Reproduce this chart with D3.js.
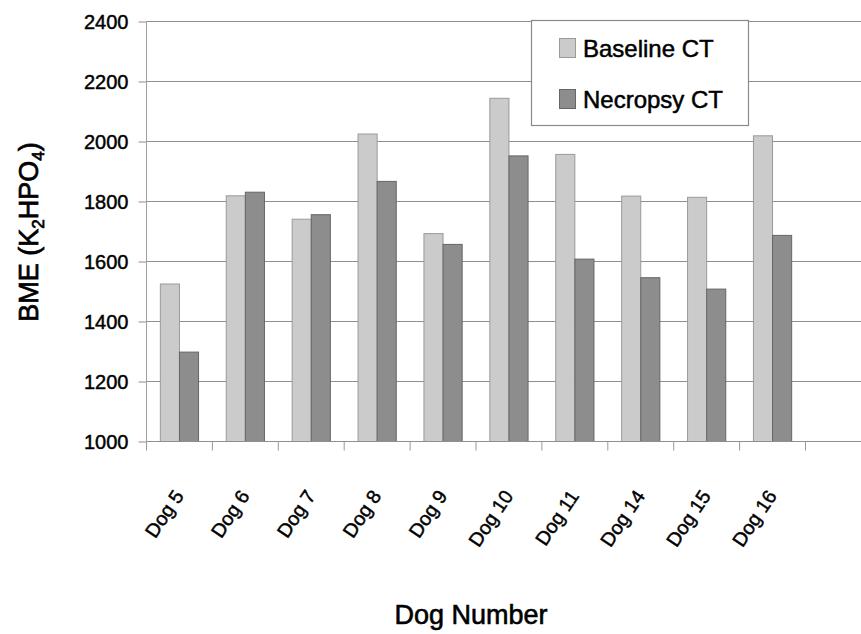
<!DOCTYPE html>
<html><head><meta charset="utf-8">
<script src="https://cdn.jsdelivr.net/npm/d3@7"></script>
<style>body{margin:0;background:#fff}svg{display:block}text{font-family:"Liberation Sans",Arial,sans-serif;fill:#000;stroke:#000;stroke-width:0.45px}</style>
</head><body><svg id="c" width="861" height="634"></svg>
<script>
const dogs = ["Dog 5","Dog 6","Dog 7","Dog 8","Dog 9","Dog 10","Dog 11","Dog 14","Dog 15","Dog 16"];
const baseline = [1525,1819,1741,2025,1693,2144,1957,1818,1814,2019];
const necropsy = [1298,1831,1756,1867,1657,1952,1608,1546,1508,1687];
const seriesNames = ["Baseline CT","Necropsy CT"];
const yTicks = [1000,1200,1400,1600,1800,2000,2200,2400];

const svg = d3.select("#c");
const W = 861;
const x0 = 146.5, x1 = 805.5, yTop = 21.5, yBot = 441.5;
const x = d3.scaleBand().domain(dogs).range([x0, x1]).paddingInner(0.42).paddingOuter(0.21);
const xs = d3.scaleBand().domain(seriesNames).range([0, x.bandwidth()]);
const y = d3.scaleLinear().domain([1000, 2400]).range([yBot, yTop]);
const colors = {"Baseline CT": {f:"#cbcbcb", s:"#9a9a9a"}, "Necropsy CT": {f:"#8d8d8d", s:"#666"}};

// gridlines
svg.append("g").selectAll("line").data(yTicks.filter(t=>t>1000)).join("line")
  .attr("x1", x0).attr("x2", W).attr("y1", d=>y(d)).attr("y2", d=>y(d))
  .attr("stroke", "#8f8f8f").attr("stroke-width", 1.2);

// y axis
const ya = svg.append("g").attr("transform", `translate(${x0},0)`)
  .call(d3.axisLeft(y).tickValues(yTicks).tickSize(8).tickPadding(10).tickFormat(d3.format("d")));
ya.select(".domain").attr("stroke", "#a0a0a0").attr("d", `M0,${yTop}V${yBot}`);
ya.selectAll(".tick line").attr("stroke", "#8f8f8f");
ya.selectAll(".tick text").style("font-size", "20px").attr("dy", "0.35em").attr("x", -18).attr("fill", "#000");

// bars
const rows = dogs.map((d,i)=>({dog:d, vals:[{k:seriesNames[0], v:baseline[i]},{k:seriesNames[1], v:necropsy[i]}]}));
svg.append("g").selectAll("g").data(rows).join("g")
  .attr("transform", d=>`translate(${x(d.dog)},0)`)
  .selectAll("rect").data(d=>d.vals).join("rect")
  .attr("x", d=>xs(d.k)).attr("width", xs.bandwidth())
  .attr("y", d=>y(d.v)).attr("height", d=>yBot - y(d.v))
  .attr("fill", d=>colors[d.k].f).attr("stroke", d=>colors[d.k].s).attr("stroke-width", 1);

// x axis
const step = x.step();
const bounds = d3.range(dogs.length + 1).map(i => x0 + i*step);
svg.append("line").attr("x1", x0).attr("x2", W).attr("y1", yBot).attr("y2", yBot).attr("stroke", "#8f8f8f").attr("stroke-width", 1.2);
svg.append("g").selectAll("line").data(bounds).join("line")
  .attr("x1", d=>d).attr("x2", d=>d).attr("y1", yBot).attr("y2", yBot + 9)
  .attr("stroke", "#999");
svg.append("g").selectAll("text").data(dogs).join("text")
  .attr("transform", d=>`translate(${x(d) + x.bandwidth()/2 + 5},${496}) rotate(-56)`)
  .attr("text-anchor", "end").style("font-size", "19.5px").text(d=>d);

// axis titles
svg.append("text").attr("x", 471).attr("y", 624).attr("text-anchor", "middle").style("font-size", "27px").style("stroke-width", "0.6px").text("Dog Number");
const yt = svg.append("text").attr("transform", "translate(38,232) rotate(-90)").attr("text-anchor", "middle").style("font-size", "27px").style("stroke-width", "0.7px");
yt.append("tspan").text("BME (K");
yt.append("tspan").attr("dy", 6).style("font-size", "17px").text("2");
yt.append("tspan").attr("dy", -6).text("HPO");
yt.append("tspan").attr("dy", 6).style("font-size", "17px").text("4");
yt.append("tspan").attr("dy", -6).text(")");

// legend
const lg = svg.append("g");
lg.append("rect").attr("x", 531.5).attr("y", 20.5).attr("width", 217).attr("height", 105)
  .attr("fill", "#fff").attr("stroke", "#8a8a8a").attr("stroke-width", 1.2);
seriesNames.forEach((s,i)=>{
  lg.append("rect").attr("x", 559.5).attr("y", 38.5 + i*51).attr("width", 16).attr("height", 19)
    .attr("fill", colors[s].f).attr("stroke", colors[s].s);
  lg.append("text").attr("x", 583).attr("y", 57 + i*51).style("font-size", "24px").style("stroke-width", "0.5px").text(s);
});
</script></body></html>
